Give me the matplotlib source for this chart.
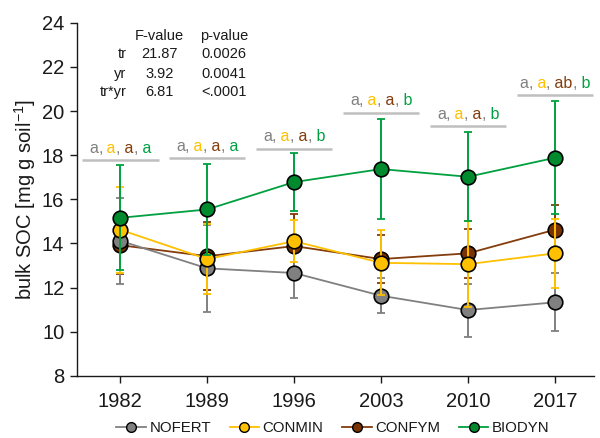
import matplotlib
matplotlib.use("Agg")
import matplotlib.pyplot as plt
from matplotlib.lines import Line2D
from matplotlib.offsetbox import TextArea, HPacker, AnnotationBbox

plt.rcParams['font.family'] = ['Liberation Sans', 'DejaVu Sans']
plt.rcParams['mathtext.fontset'] = 'custom'
plt.rcParams['mathtext.rm'] = 'Liberation Sans'

# ---- data -----------------------------------------------------------------
years = ['1982', '1989', '1996', '2003', '2010', '2017']
treatments = ['NOFERT', 'CONMIN', 'CONFYM', 'BIODYN']

nofert_mean = [14.12, 12.87, 12.66, 11.63, 10.98, 11.33]
nofert_sd = [1.95, 1.98, 1.14, 0.80, 1.20, 1.32]
conmin_mean = [14.62, 13.29, 14.10, 13.12, 13.06, 13.55]
conmin_sd = [1.95, 1.58, 0.96, 1.48, 1.95, 1.55]
confym_mean = [13.92, 13.42, 13.88, 13.29, 13.55, 14.62]
confym_sd = [1.32, 1.54, 1.45, 1.10, 1.11, 1.14]
biodyn_mean = [15.16, 15.54, 16.78, 17.37, 17.02, 17.88]
biodyn_sd = [2.38, 2.08, 1.30, 2.28, 2.02, 2.56]

# significance letters per year (NOFERT, CONMIN, CONFYM, BIODYN)
letters = [
    ['a', 'a', 'a', 'a'],
    ['a', 'a', 'a', 'a'],
    ['a', 'a', 'a', 'b'],
    ['a', 'a', 'a', 'b'],
    ['a', 'a', 'a', 'b'],
    ['a', 'a', 'ab', 'b'],
]
letter_level = [17.77, 17.88, 18.30, 19.93, 19.33, 20.74]

# ANOVA summary
anova_terms = ['tr', 'yr', 'tr*yr']
anova_f = ['21.87', '3.92', '6.81']
anova_p = ['0.0026', '0.0041', '<.0001']

# ---- styling --------------------------------------------------------------
line_colors = ['#808080', '#FFC000', '#843C0C', '#00A040']
face_colors = ['#808080', '#FFC000', '#7A3300', '#008A2E']
letter_colors = ['#808080', '#FFC000', '#843C0C', '#00A040']
comma_color = '#808080'
ink = '#1a1a1a'
order_z = [3, 4, 2, 5]

series = [
    (nofert_mean, nofert_sd),
    (conmin_mean, conmin_sd),
    (confym_mean, confym_sd),
    (biodyn_mean, biodyn_sd),
]

fig = plt.figure(figsize=(6.0, 4.38), dpi=100)
ax = fig.add_axes([0.128, 0.142, 0.862, 0.806])

x = list(range(len(years)))
for (m, s), lc, fc, z in zip(series, line_colors, face_colors, order_z):
    ax.errorbar(x, m, yerr=s, fmt='none', ecolor=lc, elinewidth=1.4,
                capsize=3, capthick=1.3, zorder=z)
    ax.plot(x, m, color=lc, lw=1.3, marker='o', ms=10.5,
            markerfacecolor=fc, markeredgecolor='black', markeredgewidth=1.2,
            zorder=z + 0.5)

ax.set_xlim(-0.5, 5.45)
ax.set_ylim(8, 24)
ax.set_xticks(x)
ax.set_xticklabels(years)
ax.set_yticks(range(8, 25, 2))
ax.tick_params(axis='both', direction='out', length=5, width=1.0,
               labelsize=14.5, colors=ink)
ax.tick_params(axis='x', pad=7)
ax.tick_params(axis='y', pad=4)
for sp in ['top', 'right']:
    ax.spines[sp].set_visible(False)
for sp in ['left', 'bottom']:
    ax.spines[sp].set_linewidth(1.0)
    ax.spines[sp].set_color(ink)

ax.set_ylabel(r'bulk SOC [mg g soil$^{\mathregular{-1}}$]', fontsize=14.5,
              color=ink, labelpad=3)

# significance letters with underline
for xi, labs, lvl in zip(x, letters, letter_level):
    parts = []
    for i, (lab, col) in enumerate(zip(labs, letter_colors)):
        txt = lab if i == 0 else ' ' + lab
        parts.append(TextArea(txt, textprops=dict(color=col, fontsize=11.5)))
        if i < len(labs) - 1:
            parts.append(TextArea(',', textprops=dict(color=comma_color, fontsize=11.5)))
    box = HPacker(children=parts, sep=0, pad=0, align='baseline')
    ab = AnnotationBbox(box, (xi, lvl), xybox=(0, 3), boxcoords='offset points',
                        box_alignment=(0.5, 0), frameon=False, pad=0,
                        annotation_clip=False)
    ax.add_artist(ab)
    ax.plot([xi - 0.44, xi + 0.44], [lvl, lvl], color='#BFBFBF', lw=1.8,
            solid_capstyle='butt', zorder=1)

# ANOVA table
tab_kw = dict(fontsize=10.5, color=ink, va='center')
ax.text(0.45, 23.40, 'F-value', ha='center', **tab_kw)
ax.text(1.19, 23.40, 'p-value', ha='center', **tab_kw)
for yy, term, fv, pv in zip([22.60, 21.70, 20.88], anova_terms, anova_f, anova_p):
    ax.text(0.07, yy, term, ha='right', **tab_kw)
    ax.text(0.45, yy, fv, ha='center', **tab_kw)
    ax.text(1.19, yy, pv, ha='center', **tab_kw)

# legend
handles = [Line2D([0], [0], color=lc, lw=1.3, marker='o', ms=7,
                  markerfacecolor=fc, markeredgecolor='black', markeredgewidth=1.0)
           for lc, fc in zip(line_colors, face_colors)]
fig.legend(handles, treatments, loc='center', bbox_to_anchor=(0.555, 0.022),
           ncol=4, frameon=False, fontsize=10.8, handlelength=1.95,
           handletextpad=0.25, columnspacing=1.25, labelcolor=ink,
           borderpad=0.1)

fig.savefig('out.png', dpi=100)
